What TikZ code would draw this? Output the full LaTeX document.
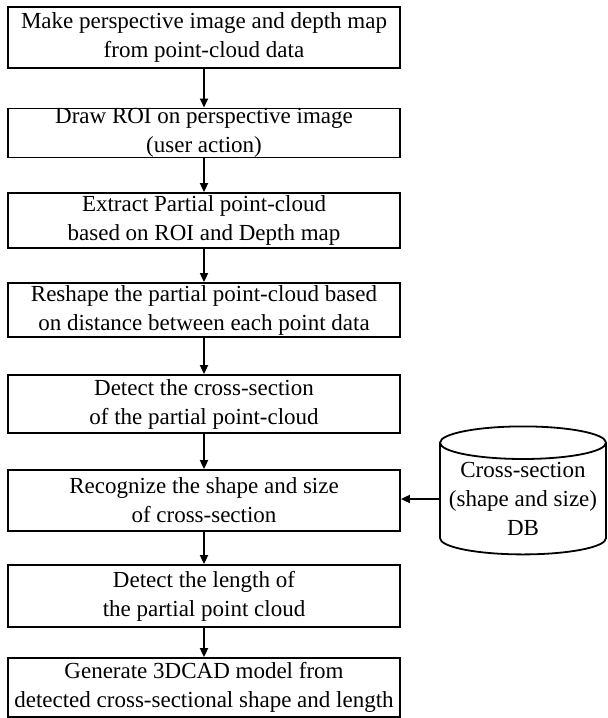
\documentclass[tikz,border=0pt]{standalone}
\usepackage{fontspec}
\setmainfont{Liberation Serif}
\usetikzlibrary{shapes.geometric,arrows.meta}

\begin{document}
\begin{tikzpicture}[x=1pt,y=-1pt,font=\fontsize{23}{29}\selectfont,line width=1.8pt,
  every node/.style={align=center,inner sep=0pt},
  stepbox/.style={draw,minimum width=392pt},
  flow/.style={-{Triangle[length=9pt,width=8pt]}}]
  \useasboundingbox (0,0) rectangle (608,718);
  \node[stepbox,minimum height=61pt] (make) at (204,37.5) {Make perspective image and depth map\\from point-cloud data};
  \node[stepbox,minimum height=47pt] (roi) at (204,133) {Draw ROI on perspective image\\(user action)};
  \node[stepbox,minimum height=55pt] (extract) at (204,220.5) {Extract Partial point-cloud\\based on ROI and Depth map};
  \node[stepbox,minimum height=54pt] (reshape) at (204,310) {Reshape the partial point-cloud based\\on distance between each point data};
  \node[stepbox,minimum height=58pt] (section) at (204,404) {Detect the cross-section\\of the partial point-cloud};
  \node[stepbox,minimum height=61pt] (recog) at (204,500.5) {Recognize the shape and size\\of cross-section};
  \node[stepbox,minimum height=62pt] (length) at (204,596) {Detect the length of\\the partial point cloud};
  \node[stepbox,minimum height=59pt] (cad) at (204,687.5) {Generate 3DCAD model from\\detected cross-sectional shape and length};
  \node[draw,cylinder,shape border rotate=90,aspect=0.22,minimum width=166pt,minimum height=128pt] (db) at (523,499) {Cross-section\\(shape and size)\\DB};
  \draw[flow] (make)--(roi); \draw[flow] (roi)--(extract); \draw[flow] (extract)--(reshape);
  \draw[flow] (reshape)--(section); \draw[flow] (section)--(recog); \draw[flow] (recog)--(length);
  \draw[flow] (length)--(cad);
  \draw[flow] (db.west)--(recog.east |- db.west);
\end{tikzpicture}
\end{document}
